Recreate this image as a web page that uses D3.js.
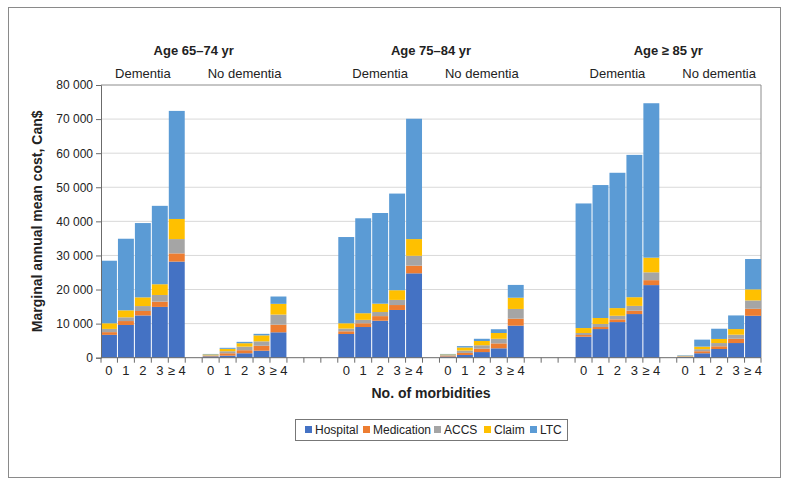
<!DOCTYPE html>
<html><head><meta charset="utf-8">
<script src="https://cdn.jsdelivr.net/npm/d3@7"></script>
<style>body{margin:0;background:#fff;}svg{display:block;font-family:"Liberation Sans",Arial,Helvetica,sans-serif;}</style>
</head><body>
<svg id="c" width="791" height="485"></svg>
<script>
const categories = ["0","1","2","3","≥ 4"];
const ageGroups = ["Age 65–74 yr","Age 75–84 yr","Age ≥ 85 yr"];
const statusGroups = ["Dementia","No dementia"];
const seriesNames = ["Hospital","Medication","ACCS","Claim","LTC"];
const yTicks = [0,10000,20000,30000,40000,50000,60000,70000,80000];
// 30 bars: age1 dem, age1 nodem, age2 dem, age2 nodem, age3 dem, age3 nodem
const hospital   = [6700,9600,12400,14900,28200, 400,600,1300,2050,7450, 6950,9000,10850,14000,24750, 350,800,1650,2750,9400, 6150,8400,10450,12800,21300, 250,1300,2550,4300,12300];
const medication = [800,1150,1300,1550,2400, 150,700,900,1450,2250, 800,1100,1350,1450,2250, 200,600,1000,1450,2050, 500,600,800,1000,1450, 100,600,800,1250,2050];
const accs       = [950,1100,1450,1950,4200, 150,600,1050,1300,2950, 800,1000,1200,1500,2900, 200,700,1000,1350,2850, 600,900,1050,1400,2300, 100,600,950,1200,2450];
const claim      = [1650,2050,2550,3150,5900, 250,700,1000,1750,3150, 1550,1950,2450,2850,4900, 200,900,1250,1700,3300, 1450,1750,2250,2550,4300, 100,750,1200,1650,3250];
const ltc        = [18350,21000,21800,23000,31700, 150,300,400,450,2150, 25300,27850,26600,28350,35300, 150,400,650,1100,3750, 36550,39000,39700,41750,45300, 150,2050,3000,4000,8900];
const colors = ["#4472C4","#ED7D31","#A5A5A5","#FFC000","#5B9BD5"];

const svg = d3.select("#c");
const L=101, R=761, T=85, B=357.7;
const nSlots = 39;
const groupStart = [0,6,14,20,28,34];
const x = d3.scaleBand().domain(d3.range(nSlots)).range([L,R]).paddingInner(0.06).paddingOuter(0);
const y = d3.scaleLinear().domain([0,80000]).range([B,T]);

// outer frame
svg.append("rect").attr("x",8.5).attr("y",7.5).attr("width",772).attr("height",470)
  .attr("fill","none").attr("stroke","#8a8a8a").attr("stroke-width",1);

// gridlines
svg.append("g").selectAll("line").data(yTicks.filter(v=>v>0&&v<80000)).join("line")
  .attr("x1",L).attr("x2",R).attr("y1",d=>y(d)).attr("y2",d=>y(d))
  .attr("stroke","#d9d9d9").attr("stroke-width",1);
// top and right frame of plot
svg.append("line").attr("x1",L).attr("x2",R).attr("y1",y(80000)).attr("y2",y(80000)).attr("stroke","#8c8c8c");
svg.append("line").attr("x1",R).attr("x2",R).attr("y1",y(80000)).attr("y2",B).attr("stroke","#8c8c8c");

// data rows
const rows = hospital.map((h,i)=>{
  const g = Math.floor(i/5), k = i%5;
  return {slot: groupStart[g]+k, Hospital:h, Medication:medication[i], ACCS:accs[i], Claim:claim[i], LTC:ltc[i]};
});
const stack = d3.stack().keys(seriesNames)(rows);
svg.append("g").selectAll("g").data(stack).join("g").attr("fill",(d,i)=>colors[i])
  .selectAll("rect").data(d=>d).join("rect")
  .attr("x",d=>x(d.data.slot)).attr("width",x.bandwidth())
  .attr("y",d=>y(d[1])).attr("height",d=>y(d[0])-y(d[1]));

// y axis
const yAxis = d3.axisLeft(y).tickValues(yTicks).tickSize(5).tickPadding(3)
  .tickFormat(d=>d3.format(",")(d).replace(/,/g," "));
const ya = svg.append("g").attr("transform",`translate(${L},0)`).call(yAxis);
ya.select(".domain").attr("stroke","#6b6b6b");
ya.selectAll(".tick line").attr("stroke","#6b6b6b");
ya.selectAll("text").attr("font-size",12).attr("fill","#222");

// x axis line and ticks at slot boundaries
const half = x.step()*x.paddingInner()/2;
const boundaries = d3.range(nSlots+1).map(i=> i<nSlots ? x(i)-half : x(nSlots-1)+x.bandwidth()+half);
svg.append("line").attr("x1",L).attr("x2",R).attr("y1",B).attr("y2",B).attr("stroke","#6b6b6b");
svg.append("g").selectAll("line").data(boundaries).join("line")
  .attr("x1",d=>Math.max(L,Math.min(R,d))).attr("x2",d=>Math.max(L,Math.min(R,d)))
  .attr("y1",B).attr("y2",B+5).attr("stroke","#6b6b6b");
// x tick labels
const labelData = [];
groupStart.forEach(s=>categories.forEach((c,k)=>labelData.push({slot:s+k,c})));
svg.append("g").selectAll("text").data(labelData).join("text")
  .attr("x",d=>x(d.slot)+x.bandwidth()/2).attr("y",B+17)
  .attr("text-anchor","middle").attr("font-size",13).attr("fill","#222").text(d=>d.c);

// group headers
const center = (s,n)=> (x(s)+x(s+n-1)+x.bandwidth())/2;
ageGroups.forEach((a,i)=>{
  svg.append("text").attr("x",center(groupStart[2*i],11)).attr("y",55)
    .attr("text-anchor","middle").attr("font-size",13).attr("font-weight","bold").attr("fill","#222").text(a);
  statusGroups.forEach((s,j)=>{
    svg.append("text").attr("x",center(groupStart[2*i+j],5)).attr("y",78)
      .attr("text-anchor","middle").attr("font-size",13).attr("fill","#222").text(s);
  });
});

// axis titles
svg.append("text").attr("transform",`translate(42,${(T+B)/2}) rotate(-90)`)
  .attr("text-anchor","middle").attr("font-size",14).attr("font-weight","bold").attr("fill","#222")
  .text("Marginal annual mean cost, Can$");
svg.append("text").attr("x",(L+R)/2).attr("y",398).attr("text-anchor","middle")
  .attr("font-size",14).attr("font-weight","bold").attr("fill","#222").text("No. of morbidities");

// legend
const lg = svg.append("g");
lg.append("rect").attr("x",295.5).attr("y",419.5).attr("width",272).attr("height",21)
  .attr("fill","#fff").attr("stroke","#777");
const legX = [305,363,434,484,530];
seriesNames.forEach((n,i)=>{
  lg.append("rect").attr("x",legX[i]).attr("y",426).attr("width",7).attr("height",7).attr("fill",colors[i]);
  lg.append("text").attr("x",legX[i]+10).attr("y",434).attr("font-size",12).attr("fill","#222").text(n);
});
</script>
</body></html>
